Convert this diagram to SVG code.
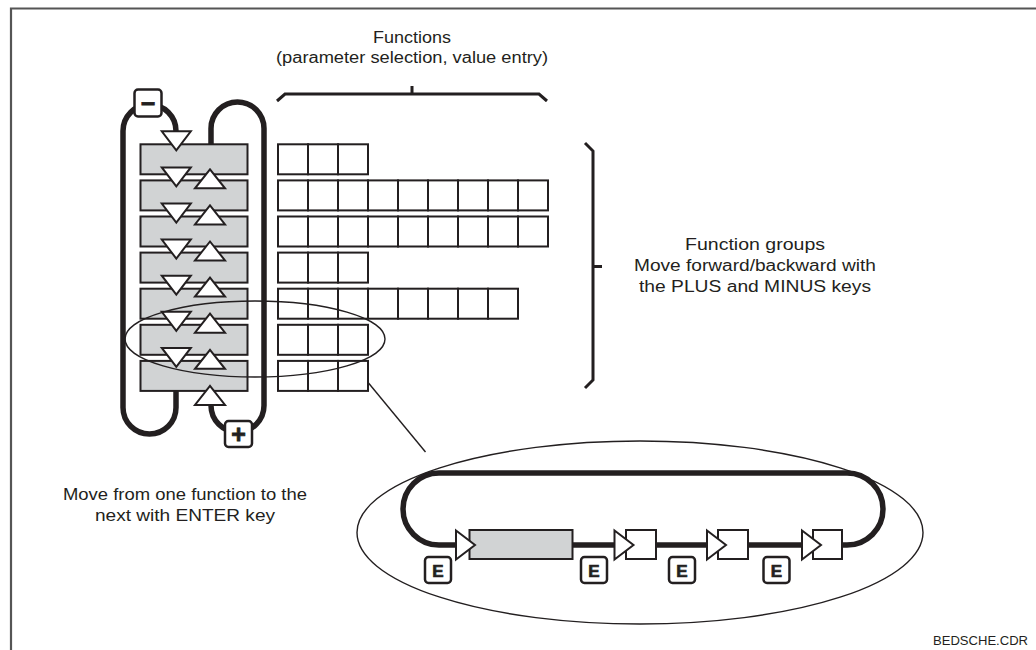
<svg xmlns="http://www.w3.org/2000/svg" width="1036" height="650" viewBox="0 0 1036 650">
<style>
.txt{font-family:"Liberation Sans",Arial,sans-serif;font-size:16px;fill:#231f20}
.small{font-size:12.5px}
.row{fill:#d1d3d4;stroke:#231f20;stroke-width:2}
.cell{fill:#fff;stroke:#231f20;stroke-width:2}
.tri{fill:#fff;stroke:#231f20;stroke-width:2;stroke-linejoin:miter}
.loop{fill:none;stroke:#231f20;stroke-width:5.5}
.brk{fill:none;stroke:#231f20;stroke-width:3}
.key{fill:#fff;stroke:#231f20;stroke-width:2.5}
.keyt{font-family:"Liberation Sans",Arial,sans-serif;font-weight:bold;font-size:17px;fill:#231f20;stroke:#231f20;stroke-width:0.7;text-anchor:middle}
.keyb{font-size:25px;stroke-width:0.8}
.thin{fill:none;stroke:#231f20;stroke-width:1.4}
</style>
<defs>
<polygon id="dn" class="tri" points="-14.5,0 14.5,0 0,19"/>
<polygon id="up" class="tri" points="-15,19 15,19 0,0"/>
<polygon id="rt" class="tri" points="0,-14.5 19,0 0,14.5"/>
<rect id="c" class="cell" width="30" height="30"/>
</defs>
<rect width="1036" height="650" fill="#fff"/>
<g id="frame" stroke="#555" stroke-width="2.2" fill="none">
<path d="M11,650 V8.5 H1036"/>
</g>

<g id="connectors">
<path class="loop" d="M176,133 V131 A26.5,26.5 0 0 0 123,131 V407.5 A26.5,26.5 0 0 0 176,407.5 V390"/>
<path class="loop" d="M211,145 V128.5 A26.5,26.5 0 0 1 264,128.5 V405.5 A26.5,26.5 0 0 1 211,405.5 V402"/>
<path class="brk" d="M277,101 L285,94 H539 L547,101 M412,94 V86"/>
<path class="brk" d="M585,143 L593,151 V380 L585,388 M593,266.5 H602"/>
<line x1="352" y1="363" x2="425.5" y2="452" stroke="#231f20" stroke-width="1.4"/>
</g>

<g id="groups">
<rect class="row" x="140.5" y="144.3" width="107" height="30"/>
<rect class="row" x="140.5" y="180.4" width="107" height="30"/>
<rect class="row" x="140.5" y="216.5" width="107" height="30"/>
<rect class="row" x="140.5" y="252.6" width="107" height="30"/>
<rect class="row" x="140.5" y="288.7" width="107" height="30"/>
<rect class="row" x="140.5" y="324.8" width="107" height="30"/>
<rect class="row" x="140.5" y="360.9" width="107" height="30"/>
</g>

<g id="arrows">
<use href="#dn" x="176.3" y="131.3"/>
<use href="#dn" x="176.3" y="167.4"/>
<use href="#dn" x="176.3" y="203.5"/>
<use href="#dn" x="176.3" y="239.6"/>
<use href="#dn" x="176.3" y="275.7"/>
<use href="#dn" x="176.3" y="311.8"/>
<use href="#dn" x="176.3" y="347.9"/>
<use href="#up" x="210" y="169.3"/>
<use href="#up" x="210" y="205.4"/>
<use href="#up" x="210" y="241.5"/>
<use href="#up" x="210" y="277.6"/>
<use href="#up" x="210" y="313.7"/>
<use href="#up" x="210" y="349.8"/>
<use href="#up" x="210" y="385.9"/>
</g>

<g id="functions">
<g transform="translate(278,144.3)"><use href="#c" x="0"/><use href="#c" x="30"/><use href="#c" x="60"/></g>
<g transform="translate(278,180.4)"><use href="#c" x="0"/><use href="#c" x="30"/><use href="#c" x="60"/><use href="#c" x="90"/><use href="#c" x="120"/><use href="#c" x="150"/><use href="#c" x="180"/><use href="#c" x="210"/><use href="#c" x="240"/></g>
<g transform="translate(278,216.5)"><use href="#c" x="0"/><use href="#c" x="30"/><use href="#c" x="60"/><use href="#c" x="90"/><use href="#c" x="120"/><use href="#c" x="150"/><use href="#c" x="180"/><use href="#c" x="210"/><use href="#c" x="240"/></g>
<g transform="translate(278,252.6)"><use href="#c" x="0"/><use href="#c" x="30"/><use href="#c" x="60"/></g>
<g transform="translate(278,288.7)"><use href="#c" x="0"/><use href="#c" x="30"/><use href="#c" x="60"/><use href="#c" x="90"/><use href="#c" x="120"/><use href="#c" x="150"/><use href="#c" x="180"/><use href="#c" x="210"/></g>
<g transform="translate(278,324.8)"><use href="#c" x="0"/><use href="#c" x="30"/><use href="#c" x="60"/></g>
<g transform="translate(278,360.9)"><use href="#c" x="0"/><use href="#c" x="30"/><use href="#c" x="60"/></g>
</g>

<g id="key-minus">
<rect class="key" x="134.5" y="89.5" width="27" height="27" rx="3.5"/>
<text class="keyt keyb" x="148" y="111.5">−</text>
</g>
<g id="key-plus">
<rect class="key" x="225" y="421" width="27" height="26" rx="3.5"/>
<text class="keyt keyb" x="238.5" y="442.5">+</text>
</g>

<g id="zoom-ellipse">
<ellipse class="thin" cx="255" cy="339" rx="130" ry="38"/>
</g>

<g id="detail">
<ellipse class="thin" cx="640" cy="532.5" rx="283" ry="91.5"/>
<path class="loop" d="M475,545 H439 A36,36 0 0 1 439,473 H847 A36,36 0 0 1 847,545 H842 M572,545 H620 M655,545 H712 M747,545 H806"/>
<rect class="row" x="469.5" y="530" width="103" height="29"/>
<rect class="cell" x="626" y="530" width="30" height="29"/>
<rect class="cell" x="718" y="530" width="30" height="29"/>
<rect class="cell" x="813" y="530" width="29" height="29"/>
<use href="#rt" x="456" y="545"/>
<use href="#rt" x="614.5" y="545"/>
<use href="#rt" x="707" y="545"/>
<use href="#rt" x="802" y="545"/>
<g id="key-e1"><rect class="key" x="425" y="557" width="26" height="26" rx="3.5"/><text class="keyt" x="438" y="576.5">E</text></g>
<g id="key-e2"><rect class="key" x="581" y="557" width="26" height="26" rx="3.5"/><text class="keyt" x="594" y="576.5">E</text></g>
<g id="key-e3"><rect class="key" x="669" y="557" width="26" height="26" rx="3.5"/><text class="keyt" x="682" y="576.5">E</text></g>
<g id="key-e4"><rect class="key" x="763.5" y="557" width="26" height="26" rx="3.5"/><text class="keyt" x="776.5" y="576.5">E</text></g>
</g>

<g id="labels">
<text class="txt" x="412" y="43" text-anchor="middle" textLength="78" lengthAdjust="spacingAndGlyphs">Functions</text>
<text class="txt" x="412" y="63" text-anchor="middle" textLength="272" lengthAdjust="spacingAndGlyphs">(parameter selection, value entry)</text>
<text class="txt" x="755" y="250" text-anchor="middle" textLength="140" lengthAdjust="spacingAndGlyphs">Function groups</text>
<text class="txt" x="755" y="271" text-anchor="middle" textLength="242" lengthAdjust="spacingAndGlyphs">Move forward/backward with</text>
<text class="txt" x="755" y="292" text-anchor="middle" textLength="232" lengthAdjust="spacingAndGlyphs">the PLUS and MINUS keys</text>
<text class="txt" x="185" y="500" text-anchor="middle" textLength="244" lengthAdjust="spacingAndGlyphs">Move from one function to the</text>
<text class="txt" x="185" y="521" text-anchor="middle" textLength="180" lengthAdjust="spacingAndGlyphs">next with ENTER key</text>
<text class="txt small" x="933" y="645" textLength="95" lengthAdjust="spacingAndGlyphs">BEDSCHE.CDR</text>
</g>
</svg>
